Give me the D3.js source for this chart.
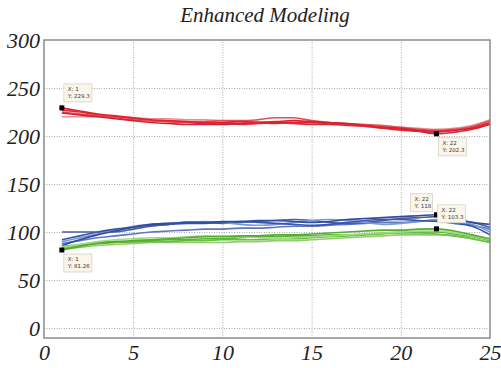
<!DOCTYPE html>
<html>
<head>
<meta charset="utf-8">
<script src="https://cdn.jsdelivr.net/npm/d3@7"></script>
<style>
  html, body { margin: 0; padding: 0; background: #fff; }
  svg { display: block; }
  .tick-label { font-family: "Liberation Serif", serif; font-style: italic; font-size: 22px; fill: #222; }
  .title { font-family: "Liberation Serif", serif; font-style: italic; font-size: 21px; fill: #222; }
  .tip text { font-family: "DejaVu Sans", sans-serif; font-size: 5.5px; fill: #333; }
</style>
</head>
<body>
<svg id="chart" width="501" height="368"></svg>
<script>
// x positions 1..25
const steps = d3.range(1, 26);

const red1 = [229.3, 226, 223, 221, 219, 217, 216, 215, 214, 214, 215, 214, 213, 214, 214, 213, 212, 211, 209, 207, 205, 202.3, 204, 207, 212];
const red2 = [227, 225, 222, 220, 218, 216, 215, 214, 213, 213, 212, 213, 214, 213, 212, 212, 211, 210, 208, 206, 205, 204, 206, 209, 214];
const red3 = [225, 223, 221, 219, 217, 216, 215, 215, 215, 216, 216, 217, 219, 219, 216, 214, 213, 212, 211, 209, 207, 206, 207, 210, 216];
const red4 = [220, 220, 220, 220, 219, 218, 218, 217, 217, 216, 215, 215, 214, 214, 213, 213, 212, 211, 210, 209, 208, 207, 208, 211, 217];
const red5 = [224, 222, 220, 218, 216, 214, 213, 212, 212, 212, 213, 214, 215, 216, 215, 214, 213, 211, 209, 208, 206, 205, 206, 208, 213];

const blue1 = [86, 92, 97, 101, 105, 108, 109, 110, 110, 111, 111, 112, 112, 111, 110, 111, 113, 114, 115, 116, 117, 118, 114, 110, 108];
const blue2 = [100, 100, 100, 100, 103, 106, 108, 110, 110, 109, 110, 111, 112, 113, 112, 110, 109, 110, 112, 114, 115, 116, 113, 110, 105];
const blue3 = [90, 94, 98, 102, 106, 108, 109, 110, 111, 110, 108, 107, 108, 110, 112, 113, 112, 110, 108, 109, 111, 113, 112, 108, 100];
const blue4 = [88, 91, 94, 96, 98, 100, 101, 102, 103, 103, 104, 104, 105, 106, 106, 107, 108, 109, 110, 110, 111, 112, 110, 107, 103];
const blue5 = [92, 96, 100, 103, 105, 107, 108, 109, 109, 110, 111, 110, 109, 108, 107, 108, 110, 112, 113, 113, 112, 111, 109, 106, 97];

const green1 = [81.26, 85, 88, 90, 91, 92, 93, 94, 95, 95, 96, 96, 97, 97, 98, 99, 100, 101, 102, 102, 103, 103.3, 101, 97, 93];
const green2 = [83, 86, 88, 89, 90, 91, 92, 92, 93, 93, 94, 95, 95, 96, 96, 97, 97, 98, 99, 100, 100, 100, 98, 95, 91];
const green3 = [85, 87, 89, 90, 90, 90, 90, 91, 91, 92, 92, 92, 93, 93, 94, 95, 96, 97, 98, 99, 99, 98, 96, 93, 89];
const green4 = [84, 87, 90, 92, 93, 94, 94, 95, 96, 96, 95, 94, 93, 94, 95, 96, 97, 98, 99, 100, 101, 101, 99, 96, 92];
const green5 = [82, 84, 86, 87, 88, 89, 89, 89, 89, 89, 90, 90, 91, 91, 92, 93, 94, 95, 96, 97, 97, 97, 96, 93, 89];

const xTicks = [0, 5, 10, 15, 20, 25];
const yTicks = [0, 50, 100, 150, 200, 250, 300];

// data tips
const tips = [
  { x: 1, y: 229.3, label: "229.3", dx: 2, dy: -24 },
  { x: 22, y: 202.3, label: "202.3", dx: 2, dy: 4 },
  { x: 1, y: 81.26, label: "81.26", dx: 2, dy: 4 },
  { x: 22, y: 118, label: "118", dx: -26, dy: -21 },
  { x: 22, y: 103.3, label: "103.3", dx: 1, dy: -24 }
];

const series = [
  { values: red4, color: "#e98d93" },
  { values: red2, color: "#d8313d" },
  { values: red3, color: "#e0505b" },
  { values: red5, color: "#cf2433" },
  { values: red1, color: "#e2202e" },
  { values: blue4, color: "#5f77c0" },
  { values: blue2, color: "#4a5f9f" },
  { values: blue3, color: "#7b98d8" },
  { values: blue5, color: "#3a55a8" },
  { values: blue1, color: "#2f4d9e" },
  { values: green5, color: "#8fce6b" },
  { values: green3, color: "#6cbf45" },
  { values: green2, color: "#5bb336" },
  { values: green4, color: "#a4d987" },
  { values: green1, color: "#4fae2c" }
];

const svg = d3.select("#chart");
const margin = { top: 40, right: 11, bottom: 30, left: 44 };
const width = 501 - margin.left - margin.right;
const height = 368 - margin.top - margin.bottom;

const x = d3.scaleLinear().domain([0, 25]).range([margin.left, margin.left + width]);
const y = d3.scaleLinear().domain([-10.4, 300]).range([margin.top + height, margin.top]);

// title
svg.append("text")
  .attr("class", "title")
  .attr("x", 265)
  .attr("y", 22)
  .attr("text-anchor", "middle")
  .text("Enhanced Modeling");

// grid
svg.append("g")
  .call(d3.axisBottom(x).tickValues(xTicks.slice(1, -1)).tickSize(-height).tickFormat(""))
  .attr("transform", "translate(0," + (margin.top + height) + ")")
  .call(g => g.select(".domain").remove())
  .call(g => g.selectAll("line").attr("stroke", "#aaa").attr("stroke-dasharray", "1,1.5"));

svg.append("g")
  .call(d3.axisLeft(y).tickValues(yTicks.slice(0, -1)).tickSize(-width).tickFormat(""))
  .attr("transform", "translate(" + margin.left + ",0)")
  .call(g => g.select(".domain").remove())
  .call(g => g.selectAll("line").attr("stroke", "#aaa").attr("stroke-dasharray", "1,1.5"));

// tick labels
svg.append("g")
  .call(d3.axisBottom(x).tickValues(xTicks).tickSize(0).tickPadding(10))
  .attr("transform", "translate(0," + (margin.top + height) + ")")
  .call(g => g.select(".domain").remove())
  .call(g => g.selectAll("text").attr("class", "tick-label").attr("dy", "0.55em"));

svg.append("g")
  .call(d3.axisLeft(y).tickValues(yTicks).tickSize(0).tickPadding(4))
  .attr("transform", "translate(" + margin.left + ",0)")
  .call(g => g.select(".domain").remove())
  .call(g => g.selectAll("text").attr("class", "tick-label").attr("dy", "0.34em"));

// lines
const line = d3.line()
  .x((d, i) => x(steps[i]))
  .y(d => y(d))
  .curve(d3.curveMonotoneX);

svg.append("g")
  .selectAll("path")
  .data(series)
  .enter()
  .append("path")
    .attr("d", d => line(d.values))
    .attr("fill", "none")
    .attr("stroke", d => d.color)
    .attr("stroke-width", 1.6);

// frame
svg.append("rect")
  .attr("x", margin.left)
  .attr("y", margin.top)
  .attr("width", width)
  .attr("height", height)
  .attr("fill", "none")
  .attr("stroke", "#8a8a8a")
  .attr("stroke-width", 1.5);

// data tips
const tip = svg.append("g").attr("class", "tip")
  .selectAll("g")
  .data(tips)
  .enter()
  .append("g");

tip.append("rect")
  .attr("x", d => x(d.x) - 2.5)
  .attr("y", d => y(d.y) - 2.5)
  .attr("width", 5)
  .attr("height", 5)
  .attr("fill", "#000");

tip.append("rect")
  .attr("x", d => x(d.x) + d.dx)
  .attr("y", d => y(d.y) + d.dy)
  .attr("width", d => d.label.length > 3 ? 28 : 22)
  .attr("height", 18)
  .attr("fill", "#faf6ec")
  .attr("stroke", "#d8d2c2")
  .attr("stroke-width", 0.8);

tip.append("text")
  .attr("x", d => x(d.x) + d.dx + 4)
  .attr("y", d => y(d.y) + d.dy + 7)
  .text(d => "X: " + d.x);

tip.append("text")
  .attr("x", d => x(d.x) + d.dx + 4)
  .attr("y", d => y(d.y) + d.dy + 14)
  .text(d => "Y: " + d.label);
</script>
</body>
</html>
